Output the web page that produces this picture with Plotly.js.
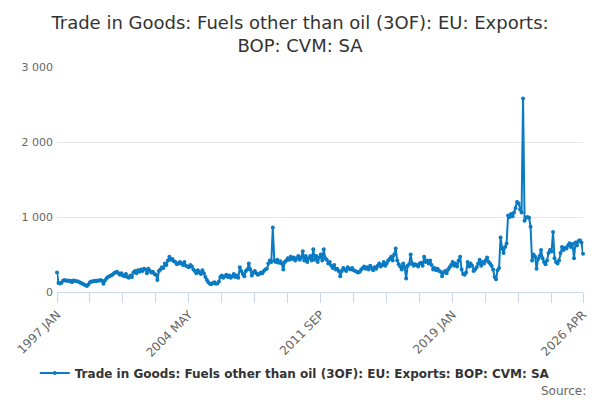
<!DOCTYPE html>
<html>
<head>
<meta charset="utf-8">
<script src="https://cdn.plot.ly/plotly-3.0.1.min.js"></script>
<style>
  html, body {margin: 0; padding: 0; background: #fff;}
  #chart {width: 600px; height: 400px;}
</style>
</head>
<body>
<div id="chart"></div>
<script>
// monthly values, 1997 JAN .. 2026 APR
var values_1997_2003 = [
   260, 120, 115, 125, 150, 160, 150, 155, 145, 150, 130, 155,   // 1997
   150, 145, 140, 130, 120, 110, 100,  90,  80, 100, 130, 140,   // 1998
   140, 150, 145, 155, 150, 160, 150, 110, 155, 180, 200, 210,   // 1999
   220, 230, 250, 260, 270, 250, 230, 250, 220, 210, 240, 200,   // 2000
   190, 220, 200, 260, 280, 250, 290, 270, 300, 280, 310, 300,   // 2001
   250, 310, 280, 260, 270, 240, 230, 160, 280, 300, 330, 320,   // 2002
   380, 360, 420, 470, 430, 440, 410, 400, 370, 380, 400, 380    // 2003
];
var values_2004_2010 = [
   360, 400, 350, 340, 330, 360, 340, 300, 280, 250, 290, 260,   // 2004
   240, 290, 250, 200, 160, 130, 110, 105, 120, 130, 110, 115,   // 2005
   140, 200, 220, 190, 210, 230, 200, 220, 190, 210, 240, 200,   // 2006
   220, 190, 330, 280, 240, 210, 280, 300, 380, 300, 220, 260,   // 2007
   280, 250, 230, 240, 260, 250, 280, 300, 310, 380, 420, 400,   // 2008
   860, 420, 400, 430, 390, 410, 380, 300, 400, 420, 450, 430,   // 2009
   470, 440, 460, 420, 450, 480, 430, 460, 545, 420, 480, 400    // 2010
];
var values_2011_2018 = [
   450, 480, 420, 570, 430, 480, 400, 460, 500, 420, 570, 450,   // 2011
   430, 380, 400, 350, 320, 360, 300, 310, 280, 210, 280, 320,   // 2012
   300, 280, 330, 310, 300, 320, 290, 280, 270, 260, 270, 300,   // 2013
   320, 340, 310, 330, 300, 350, 320, 290, 330, 310, 350, 380,   // 2014
   340, 360, 400, 350, 380, 420, 440, 470, 420, 500, 580, 420,   // 2015
   370, 340, 300, 380, 330, 180, 350, 370, 500, 380, 350, 370,   // 2016
   360, 340, 380, 390, 350, 470, 400, 420, 380, 420, 360, 300,   // 2017
   320, 290, 310, 280, 270, 210, 260, 280, 250, 300, 330, 360    // 2018
];
var values_2019_2026 = [
   400, 350, 380, 340, 420, 470, 300, 240, 230, 260, 400, 340,   // 2019
   380, 350, 280, 300, 330, 380, 430, 350, 400, 380, 420, 460,   // 2020
   400, 380, 350, 300, 200, 170, 290, 320, 728, 580, 520, 600,   // 2021
   648, 1020, 1000, 1040, 1010, 1060, 1120, 1200, 1180, 1100, 1060, 2580, // 2022
   950, 990, 1000, 990, 870, 420, 500, 470, 310, 440, 480, 560,  // 2023
   450, 400, 370, 420, 520, 560, 540, 800, 450, 400, 380, 420,   // 2024
   520, 600, 560, 590, 580, 620, 650, 600, 640, 450, 660, 620,   // 2025
   680, 690, 660, 510                                            // 2026
];

var month_names = ['JAN','FEB','MAR','APR','MAY','JUN','JUL','AUG','SEP','OCT','NOV','DEC'];
var start_year = 1997;
var series_name = 'Trade in Goods: Fuels other than oil (3OF): EU: Exports: BOP: CVM: SA';

var y = values_1997_2003.concat(values_2004_2010, values_2011_2018, values_2019_2026);
var x = [];
for (var i = 0; i < y.length; i++) {
   x.push((start_year + Math.floor(i / 12)) + ' ' + month_names[i % 12]);
}

// a tick every 22 months, a label every 4th tick, plus the last month
var tickvals = [];
var ticktext = [];
for (var i = 0; i < y.length - 1; i += 22) {
   tickvals.push(x[i]);
   ticktext.push(i % 88 == 0 ? x[i] : '');
}
tickvals.push(x[y.length - 1]);
ticktext.push(x[y.length - 1]);

var trace = {
   x: x,
   y: y,
   type: 'scatter',
   mode: 'lines+markers',
   name: series_name,
   line: {color: '#0a7bc2', width: 2},
   marker: {color: '#0a7bc2', size: 4},
   cliponaxis: false
};

var layout = {
   width: 600,
   height: 400,
   margin: {l: 57, r: 17, t: 67, b: 108},
   paper_bgcolor: '#fff',
   plot_bgcolor: '#fff',
   separators: '. ',
   font: {family: 'DejaVu Sans, sans-serif', color: '#666'},
   title: {
      text: 'Trade in Goods: Fuels other than oil (3OF): EU: Exports:<br>BOP: CVM: SA',
      font: {size: 18, color: '#333'},
      x: 0.5,
      xanchor: 'center',
      yref: 'container',
      y: 0.928,
      yanchor: 'middle'
   },
   xaxis: {
      type: 'category',
      range: [0, y.length - 1],
      tickmode: 'array',
      tickvals: tickvals,
      ticktext: ticktext,
      tickangle: -45,
      ticks: 'outside',
      ticklen: 10,
      tickcolor: '#ccd6eb',
      showline: true,
      linecolor: '#ccd6eb',
      linewidth: 1,
      showgrid: false,
      zeroline: false,
      tickfont: {size: 12, color: '#666'}
   },
   yaxis: {
      range: [0, 3000],
      tickvals: [0, 1000, 2000, 3000],
      separatethousands: true,
      showgrid: true,
      gridcolor: '#e6e6e6',
      zeroline: false,
      showline: false,
      ticks: '',
      ticklabelstandoff: 3,
      tickfont: {size: 11, color: '#666'}
   },
   showlegend: true,
   legend: {
      orientation: 'h',
      x: 0.452,
      xanchor: 'center',
      y: -0.36,
      yanchor: 'middle',
      itemwidth: 30,
      font: {size: 12, color: '#333', weight: 'bold'}
   },
   annotations: [{
      text: 'Source:',
      xref: 'paper',
      yref: 'paper',
      x: 1.01,
      y: -0.44,
      xanchor: 'right',
      yanchor: 'middle',
      showarrow: false,
      font: {size: 12, color: '#666'}
   }]
};

Plotly.newPlot('chart', [trace], layout, {displayModeBar: false});
</script>
</body>
</html>
